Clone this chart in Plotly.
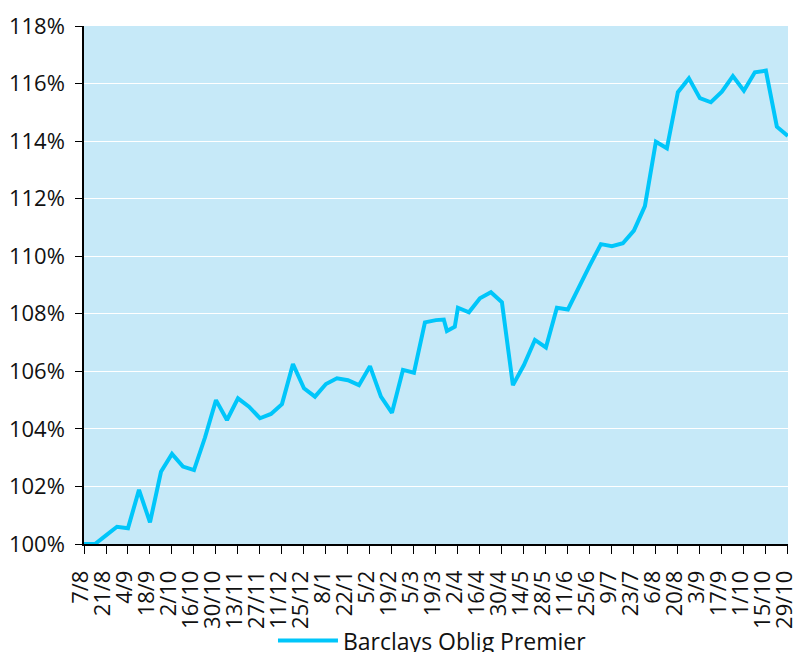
import plotly.graph_objects as go

dates = [
    "2009-08-07", "2009-08-14", "2009-08-21", "2009-08-28", "2009-09-04", "2009-09-11",
    "2009-09-18", "2009-09-25", "2009-10-02", "2009-10-09", "2009-10-16", "2009-10-23",
    "2009-10-30", "2009-11-06", "2009-11-13", "2009-11-20", "2009-11-27", "2009-12-04",
    "2009-12-11", "2009-12-18", "2009-12-25", "2010-01-01", "2010-01-08", "2010-01-15",
    "2010-01-22", "2010-01-29", "2010-02-05", "2010-02-12", "2010-02-19", "2010-02-26",
    "2010-03-05", "2010-03-12", "2010-03-19", "2010-03-24", "2010-03-26", "2010-03-31",
    "2010-04-02", "2010-04-09", "2010-04-16", "2010-04-23", "2010-04-30", "2010-05-07",
    "2010-05-14", "2010-05-21", "2010-05-28", "2010-06-04", "2010-06-11", "2010-06-18",
    "2010-06-25", "2010-07-02", "2010-07-09", "2010-07-16", "2010-07-23", "2010-07-30",
    "2010-08-06", "2010-08-13", "2010-08-20", "2010-08-27", "2010-09-03", "2010-09-10",
    "2010-09-17", "2010-09-24", "2010-10-01", "2010-10-08", "2010-10-15", "2010-10-22",
    "2010-10-29",
]

barclays = [
    100.00, 100.00, 100.30, 100.60, 100.55, 101.88,
    100.75, 102.51, 103.13, 102.69, 102.57, 103.70,
    105.00, 104.31, 105.06, 104.77, 104.37, 104.52,
    104.86, 106.25, 105.41, 105.12, 105.56, 105.76,
    105.69, 105.52, 106.18, 105.12, 104.56, 106.05,
    105.95, 107.70, 107.78, 107.80, 107.40, 107.55,
    108.21, 108.05, 108.54, 108.75, 108.40, 105.52,
    106.22, 107.09, 106.83, 108.21, 108.15, 108.96,
    109.69, 110.42, 110.35, 110.45, 110.89, 111.74,
    113.98, 113.75, 115.70, 116.18, 115.49, 115.35,
    115.72, 116.26, 115.75, 116.39, 116.45, 114.50,
    114.18,
]

tick_dates = [
    "2009-08-07", "2009-08-21", "2009-09-04", "2009-09-18", "2009-10-02", "2009-10-16",
    "2009-10-30", "2009-11-13", "2009-11-27", "2009-12-11", "2009-12-25", "2010-01-08",
    "2010-01-22", "2010-02-05", "2010-02-19", "2010-03-05", "2010-03-19", "2010-04-02",
    "2010-04-16", "2010-04-30", "2010-05-14", "2010-05-28", "2010-06-11", "2010-06-25",
    "2010-07-09", "2010-07-23", "2010-08-06", "2010-08-20", "2010-09-03", "2010-09-17",
    "2010-10-01", "2010-10-15", "2010-10-29",
]
tick_labels = [
    "7/8", "21/8", "4/9", "18/9", "2/10", "16/10", "30/10", "13/11", "27/11", "11/12",
    "25/12", "8/1", "22/1", "5/2", "19/2", "5/3", "19/3", "2/4", "16/4", "30/4", "14/5",
    "28/5", "11/6", "25/6", "9/7", "23/7", "6/8", "20/8", "3/9", "17/9", "1/10", "15/10",
    "29/10",
]

y_ticks = [100, 102, 104, 106, 108, 110, 112, 114, 116, 118]
y_labels = [f"{v}%" for v in y_ticks]

FONT = "Open Sans"
fig = go.Figure()
fig.add_trace(go.Scatter(
    x=dates, y=barclays, mode="lines", name="Barclays Oblig Premier",
    line=dict(color="#00C6FA", width=4),
))

fig.update_layout(
    width=798, height=652,
    margin=dict(l=84, r=10, t=26, b=108, autoexpand=False),
    paper_bgcolor="white",
    plot_bgcolor="#C6E9F8",
    font=dict(family=FONT, size=22, color="#111111"),
    showlegend=True,
    legend=dict(orientation="h", x=0.495, xanchor="center", y=-0.145, yanchor="top",
                font=dict(size=23), itemwidth=60, bgcolor="rgba(0,0,0,0)"),
)
fig.update_xaxes(
    type="date", range=["2009-08-07", "2010-10-29 02:00"],
    tickvals=tick_dates, ticktext=tick_labels, tickangle=-90,
    ticks="outside", ticklen=8, tickcolor="black", tickwidth=1,
    showline=True, linecolor="black", linewidth=1.5,
    showgrid=False, zeroline=False, tickfont=dict(size=22),
    automargin=False, ticklabelstandoff=8, ticklabeloverflow="allow",
    ticklabelshift=-3,
)
fig.update_yaxes(
    range=[100, 118], tickvals=y_ticks, ticktext=y_labels,
    ticks="outside", ticklen=7, tickcolor="black", tickwidth=1,
    showline=True, linecolor="black", linewidth=1.5,
    showgrid=True, gridcolor="white", gridwidth=1.2, zeroline=False,
    tickfont=dict(size=22), ticklabelstandoff=6, automargin=False,
)
fig.write_html(
    "out.html",
    config={"displayModeBar": False},
    post_script="document.body.style.margin='0';document.body.style.overflow='hidden';",
)
